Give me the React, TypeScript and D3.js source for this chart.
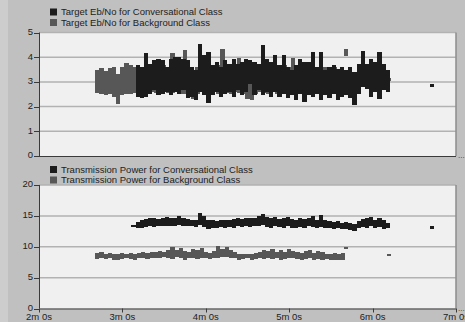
import React, { useRef, useEffect } from "react";
import * as d3 from "d3";

const width = 465;
const height = 322;

const timeTicks = [120, 180, 240, 300, 360, 420];
const timeLabels = ["2m 0s", "3m 0s", "4m 0s", "5m 0s", "6m 0s", "7m 0s"];
const ebTicks = [0, 1, 2, 3, 4, 5];
const powerTicks = [0, 5, 10, 15, 20];

const ebLegend = [
  "Target Eb/No for Conversational Class",
  "Target Eb/No for Background Class",
];
const powerLegend = [
  "Transmission Power for Conversational Class",
  "Transmission Power for Background Class",
];

// [time (s), low, high] - spread of samples in each ~3s slot
const ebConversational = [
  [191, 2.4, 3.7], [194, 2.33, 3.6], [197, 2.39, 4.18], [200, 2.53, 3.74],
  [203, 2.66, 3.9], [206, 2.46, 3.94], [209, 2.5, 3.87], [212, 2.6, 3.6],
  [215, 2.46, 3.94], [218, 2.6, 4.0], [221, 2.53, 4.0], [224, 2.66, 3.94],
  [227, 2.33, 3.87], [230, 2.39, 3.6], [233, 2.26, 3.47], [236, 2.6, 4.54],
  [239, 2.46, 4.07], [242, 2.15, 4.2], [245, 2.46, 3.67], [248, 2.6, 3.8],
  [251, 2.39, 3.6], [254, 2.53, 3.87], [257, 2.6, 3.74], [260, 2.39, 3.94],
  [263, 2.66, 3.74], [266, 2.46, 3.8], [269, 2.6, 3.94], [272, 2.9, 3.87],
  [275, 2.46, 3.8], [278, 2.66, 3.74], [281, 2.46, 4.48], [284, 2.6, 3.94],
  [287, 2.39, 3.8], [290, 2.6, 4.1], [293, 2.39, 3.67], [296, 2.53, 4.1],
  [299, 2.33, 3.6], [302, 2.46, 3.47], [305, 2.26, 3.67], [308, 2.53, 3.94],
  [311, 2.19, 3.8], [314, 2.46, 3.8], [317, 2.39, 4.21], [320, 2.53, 3.6],
  [323, 2.26, 4.21], [326, 2.46, 3.47], [329, 2.33, 3.6], [332, 2.53, 3.67],
  [335, 2.26, 3.54], [338, 2.39, 3.6], [341, 2.46, 3.47], [344, 2.33, 3.6],
  [347, 2.05, 3.4], [350, 2.53, 3.74], [353, 2.8, 4.25], [356, 2.73, 3.74],
  [359, 2.39, 3.94], [362, 2.6, 3.8], [365, 2.3, 4.21], [368, 2.66, 3.74],
  [371, 2.6, 3.47], [403, 2.8, 2.9],
];

const ebBackground = [
  [162, 2.55, 3.5], [165, 2.5, 3.55], [168, 2.45, 3.45], [171, 2.5, 3.55],
  [174, 2.4, 3.6], [177, 2.1, 3.3], [180, 2.45, 3.6], [183, 2.5, 3.75],
  [186, 2.5, 3.7], [189, 2.55, 3.6], [192, 2.5, 3.5], [195, 2.6, 3.5],
  [198, 2.5, 3.6], [201, 2.6, 3.7], [204, 2.55, 3.5], [207, 2.5, 3.6],
  [210, 2.6, 3.7], [213, 2.55, 3.6], [216, 2.55, 4.15], [219, 2.6, 3.7],
  [222, 2.5, 3.6], [225, 2.5, 4.3], [228, 2.6, 3.6], [231, 2.3, 3.5],
  [234, 2.5, 3.6], [237, 2.6, 3.7], [240, 2.5, 3.6], [243, 2.55, 3.5],
  [246, 2.6, 3.6], [249, 2.5, 3.7], [252, 2.6, 4.35], [255, 2.55, 3.6],
  [258, 2.5, 3.5], [261, 2.6, 3.6], [264, 2.55, 3.95], [267, 2.5, 3.6],
  [270, 2.3, 3.5], [273, 2.28, 3.4], [276, 2.5, 3.6], [279, 2.6, 3.5],
  [282, 2.55, 3.6], [285, 2.5, 3.7], [288, 2.6, 3.6], [291, 2.5, 3.5],
  [294, 2.55, 3.6], [297, 2.6, 3.7], [300, 2.5, 3.6], [303, 2.6, 3.95],
  [306, 2.5, 3.6], [309, 2.55, 3.5], [312, 2.6, 3.6], [315, 2.5, 3.7],
  [318, 2.55, 3.6], [321, 2.6, 3.5], [324, 2.5, 3.6], [327, 2.55, 3.6],
  [330, 2.6, 3.5], [333, 2.5, 3.6], [336, 2.55, 3.5], [341, 4.05, 4.35],
  [372, 3.05, 3.15],
];

const powerConversational = [
  [188, 13.2, 13.5], [191, 13.0, 14.0], [194, 13.1, 14.3], [197, 13.2, 14.5],
  [200, 13.3, 14.6], [203, 13.2, 14.7], [206, 13.4, 14.5], [209, 13.3, 14.6],
  [212, 13.3, 14.8], [215, 13.4, 14.6], [218, 13.3, 14.7], [221, 13.5, 14.9],
  [224, 13.4, 14.6], [227, 13.3, 14.5], [230, 13.4, 14.4], [233, 13.2, 14.3],
  [236, 13.5, 15.4], [239, 13.2, 15.0], [242, 12.9, 14.4], [245, 13.1, 14.3],
  [248, 13.0, 14.2], [251, 13.2, 14.4], [254, 13.1, 14.3], [257, 13.2, 14.4],
  [260, 13.1, 14.5], [263, 13.3, 14.6], [266, 13.2, 14.5], [269, 13.3, 14.6],
  [272, 13.2, 14.7], [275, 13.4, 14.6], [278, 13.3, 14.9], [281, 13.5, 15.3],
  [284, 13.2, 14.8], [287, 13.1, 14.6], [290, 13.3, 14.8], [293, 13.2, 14.5],
  [296, 13.0, 14.6], [299, 13.3, 14.8], [302, 13.1, 14.5], [305, 13.0, 14.4],
  [308, 13.2, 14.7], [311, 13.1, 14.5], [314, 13.3, 14.6], [317, 13.2, 15.0],
  [320, 13.0, 14.4], [323, 13.2, 15.1], [326, 13.1, 14.3], [329, 13.0, 14.1],
  [332, 12.9, 14.0], [335, 13.0, 14.1], [338, 12.8, 13.9], [341, 12.9, 14.0],
  [344, 12.7, 13.9], [347, 12.5, 13.7], [350, 13.0, 14.2], [353, 13.2, 14.5],
  [356, 13.1, 14.6], [359, 13.3, 14.8], [362, 13.0, 14.4], [365, 13.2, 14.6],
  [368, 12.9, 14.3], [371, 13.0, 13.8], [403, 12.9, 13.3],
];

const powerBackground = [
  [162, 8.0, 9.0], [165, 8.1, 9.1], [168, 8.0, 8.9], [171, 8.1, 9.0],
  [174, 7.8, 8.8], [177, 7.9, 8.9], [180, 8.0, 9.0], [183, 8.1, 8.9],
  [186, 8.0, 9.0], [189, 7.9, 8.8], [192, 8.1, 9.0], [195, 8.2, 9.1],
  [198, 8.0, 9.0], [201, 8.1, 9.2], [204, 8.2, 9.1], [207, 8.1, 9.3],
  [210, 8.3, 9.2], [213, 8.2, 9.5], [216, 8.0, 9.9], [219, 8.3, 9.4],
  [222, 8.2, 9.8], [225, 7.9, 9.3], [228, 8.1, 9.1], [231, 8.2, 9.6],
  [234, 8.0, 9.4], [237, 8.1, 9.8], [240, 8.2, 9.2], [243, 8.0, 9.0],
  [246, 8.1, 9.3], [249, 8.2, 10.1], [252, 8.4, 9.6], [255, 8.3, 9.9],
  [258, 8.2, 9.5], [261, 8.1, 9.1], [264, 7.9, 8.9], [267, 8.0, 8.8],
  [270, 8.1, 8.9], [273, 7.9, 8.9], [276, 8.0, 9.0], [279, 8.1, 9.2],
  [282, 8.0, 9.5], [285, 8.2, 9.3], [288, 8.0, 9.6], [291, 8.1, 9.2],
  [294, 7.9, 9.5], [297, 8.0, 9.2], [300, 8.2, 9.6], [303, 8.1, 9.3],
  [306, 8.0, 9.1], [309, 7.9, 9.0], [312, 8.0, 9.3], [315, 8.1, 9.5],
  [318, 7.9, 9.0], [321, 8.0, 9.3], [324, 7.9, 9.1], [327, 8.0, 8.9],
  [330, 7.8, 8.9], [333, 7.9, 9.0], [336, 7.8, 8.8], [339, 7.9, 9.0],
  [341, 9.6, 10.0], [372, 8.6, 8.9],
];

const darkColor = "#1c1c1c";
const grayColor = "#575757";
const font = "'Liberation Sans', Arial, sans-serif";

const App = () => {
  const ref = useRef<HTMLDivElement>(null);

  useEffect(() => {
    d3.select(ref.current).select("svg").remove();

    const svg = d3
      .select(ref.current)
      .append("svg")
      .attr("width", width)
      .attr("height", height)
      .style("position", "absolute")
      .style("left", "0px")
      .style("top", "0px")
      .style("font-family", font);

    svg.append("rect").attr("width", width).attr("height", height).attr("fill", "#c0c0c0");
    svg.append("rect").attr("width", 8).attr("height", height).attr("fill", "#cdcdcd");

    const x = d3.scaleLinear().domain([120, 420]).range([39, 456]);
    const half = 1.5; // each sample slot covers 3 s

    const panels = [
      { ticks: ebTicks, top: 32.5, bottom: 156, legend: ebLegend, legendY: 12,
        series: [ebBackground, ebConversational], showTime: false },
      { ticks: powerTicks, top: 185, bottom: 308.5, legend: powerLegend, legendY: 169.5,
        series: [powerBackground, powerConversational], showTime: true },
    ];

    panels.forEach((p) => {
      const y = d3
        .scaleLinear()
        .domain([0, d3.max(p.ticks) as number])
        .range([p.bottom, p.top]);
      const g = svg.append("g");

      // plot area
      g.append("rect")
        .attr("x", x(120))
        .attr("y", p.top)
        .attr("width", x(420) - x(120))
        .attr("height", p.bottom - p.top)
        .attr("fill", "#f0f0f0");

      // grid lines
      g.selectAll(".grid")
        .data(p.ticks.slice(1))
        .join("line")
        .attr("x1", x(120))
        .attr("x2", x(420))
        .attr("y1", (d) => y(d))
        .attr("y2", (d) => y(d))
        .attr("stroke", "#b2b2b2")
        .attr("stroke-width", 1.5);

      // data: background class first, conversational on top
      const colors = [grayColor, darkColor];
      p.series.forEach((s, i) => {
        g.append("g")
          .attr("shape-rendering", "crispEdges")
          .selectAll("rect")
          .data(s)
          .join("rect")
          .attr("x", (d) => Math.round(x(d[0] - half)))
          .attr("y", (d) => Math.round(y(d[2])))
          .attr("width", (d) => Math.round(x(d[0] + half)) - Math.round(x(d[0] - half)))
          .attr("height", (d) => Math.max(2, Math.round(y(d[1])) - Math.round(y(d[2]))))
          .attr("fill", colors[i]);
      });

      // right border
      g.append("line")
        .attr("x1", x(420))
        .attr("x2", x(420))
        .attr("y1", p.top)
        .attr("y2", p.bottom)
        .attr("stroke", "#8c8c8c")
        .attr("stroke-width", 1.5);

      // left and bottom axis lines
      g.append("line")
        .attr("x1", x(120) + 0.5)
        .attr("x2", x(120) + 0.5)
        .attr("y1", p.top)
        .attr("y2", p.bottom)
        .attr("stroke", "#3a3a3a");
      g.append("line")
        .attr("x1", x(120))
        .attr("x2", x(420))
        .attr("y1", p.bottom + 0.5)
        .attr("y2", p.bottom + 0.5)
        .attr("stroke", "#3a3a3a");

      // y ticks
      g.selectAll(".ytick")
        .data(p.ticks)
        .join("line")
        .attr("x1", x(120) - 5)
        .attr("x2", x(120))
        .attr("y1", (d) => Math.round(y(d)) + 0.5)
        .attr("y2", (d) => Math.round(y(d)) + 0.5)
        .attr("stroke", "#3a3a3a");
      g.selectAll(".ylabel")
        .data(p.ticks)
        .join("text")
        .attr("x", x(120) - 6)
        .attr("y", (d) => y(d) - 1)
        .attr("dy", "0.35em")
        .attr("text-anchor", "end")
        .style("font-size", "9.5px")
        .attr("fill", "#222")
        .text((d) => d);

      // "..." marker at the right end of the axis
      g.append("text")
        .attr("x", 458)
        .attr("y", p.bottom + 2)
        .style("font-size", "8px")
        .attr("fill", "#333")
        .text("...");

      if (p.showTime) {
        g.selectAll(".xtick")
          .data(timeTicks)
          .join("line")
          .attr("x1", (d) => Math.round(x(d)) + 0.5)
          .attr("x2", (d) => Math.round(x(d)) + 0.5)
          .attr("y1", p.bottom)
          .attr("y2", p.bottom + 4)
          .attr("stroke", "#3a3a3a");
        g.selectAll(".xlabel")
          .data(timeTicks)
          .join("text")
          .attr("x", (d) => x(d))
          .attr("y", p.bottom + 11.5)
          .attr("text-anchor", "middle")
          .style("font-size", "9.5px")
          .attr("fill", "#222")
          .text((d, i) => timeLabels[i]);
      }

      // legend
      const legendColors = [darkColor, grayColor];
      p.legend.forEach((label, i) => {
        const ly = p.legendY + i * 10.5;
        g.append("rect")
          .attr("x", 50)
          .attr("y", ly - 3.5)
          .attr("width", 7)
          .attr("height", 7)
          .attr("fill", legendColors[i]);
        g.append("text")
          .attr("x", 61)
          .attr("y", ly)
          .attr("dy", "0.35em")
          .style("font-size", "9.5px")
          .attr("fill", "#222")
          .text(label);
      });
    });
  }, []);

  return <div ref={ref} />;
};

export default App;
